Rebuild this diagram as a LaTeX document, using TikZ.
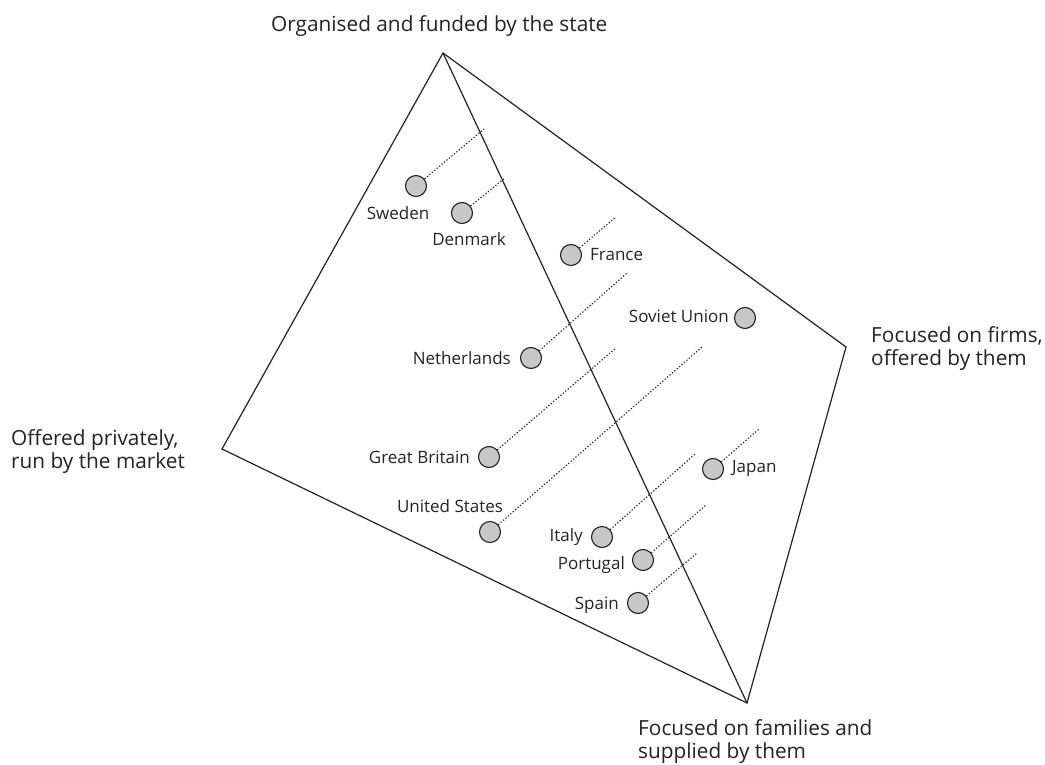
\documentclass[tikz,border=0pt]{standalone}
\usepackage{fontspec}
\setmainfont{Open Sans}
\usepackage{xcolor}

\definecolor{dotGray}{RGB}{200,200,200}
\definecolor{inkGray}{RGB}{35,35,35}

\tikzset{
    edge/.style={inkGray, line width=1.2pt},
    lead/.style={inkGray, dash pattern=on 1.3pt off 1.9pt, line width=1.1pt},
    country/.style={circle, draw=inkGray, fill=dotGray, line width=1.1pt, minimum size=21pt, inner sep=0pt},
    countrylabel/.style={text=inkGray, font=\fontsize{17}{20}\selectfont, inner sep=0pt},
    cornerlabel/.style={text=inkGray, font=\fontsize{20.8}{23}\selectfont, align=left, inner sep=0pt}
}

\begin{document}
\begin{tikzpicture}[x=1pt, y=-1pt]
            \useasboundingbox (0, 0) rectangle (1045, 765);
            % corners of the tetrahedron
            \coordinate (state) at (443, 53);
            \coordinate (market) at (222, 449);
            \coordinate (firms) at (846, 347);
            \coordinate (families) at (747, 703);

            \draw[edge] (state) -- (market) -- (families) -- (firms) -- cycle;
            \draw[edge] (state) -- (families);

            \node[cornerlabel, anchor=base west] (stateText) at (271, 32) {Organised and funded by the state};
            \node[cornerlabel, anchor=west] (firmsText) at (871, 349) {Focused on firms,\\offered by them};
            \node[cornerlabel, anchor=west] (marketText) at (11, 452) {Offered privately,\\run by the market};
            \node[cornerlabel, anchor=west] (familiesText) at (638, 742) {Focused on families and\\supplied by them};

            % countries: name / x / y / end of lead / label anchor / label position / text
            \foreach \cName/\cX/\cY/\cEndX/\cEndY/\cAnchor/\cLabX/\cLabY/\cText in {
                    sweden/416/186/484/129/center/398/213/Sweden,
                    denmark/462/213/505/178/center/469/239/Denmark,
                    france/571/255/616/217/west/590/255/France,
                    netherlands/531/358/627/273/east/511/358/Netherlands,
                    britain/489/457/616/348/east/470/457/Great Britain,
                    states/490/532/702/347/center/450/506/United States,
                    japan/713/469/759/429/west/732/468/Japan,
                    italy/602/537/696/453/east/583/537/Italy,
                    portugal/643/560/706/505/east/625/565/Portugal,
                    spain/638/603/697/553/east/619/605/Spain}
                {
                    \node[country] (\cName) at (\cX, \cY) {};
                    \coordinate (\cName-end) at (\cEndX, \cEndY);
                    \draw[lead] (\cName) -- (\cName-end);
                    \node[countrylabel, anchor=\cAnchor] (\cName-text) at (\cLabX, \cLabY) {\cText};
                }

            % the Soviet Union has no lead
            \node[country] (soviet) at (745, 318) {};
            \node[countrylabel, anchor=east] (soviet-text) at (729, 316) {Soviet Union};
        \end{tikzpicture}
\end{document}
